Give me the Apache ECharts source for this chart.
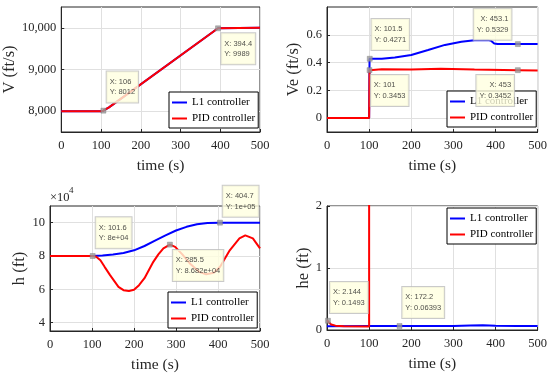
<!DOCTYPE html>
<html><head><meta charset="utf-8">
<script src="https://cdn.jsdelivr.net/npm/echarts@6/dist/echarts.min.js"></script>
<style>html,body{margin:0;padding:0;background:#fff}#c{width:550px;height:379px}</style>
</head><body><div id="c"></div>
<script>
// ---------- data ----------
const seriesNames = ['L1 controller', 'PID controller'];
// Panel 1: V (ft/s)
const vTime = [0, 100, 106, 120, 394.4, 397, 500];
const vL1   = [8000, 8000, 8012, 8090, 9989, 10000, 10000];
const vPID  = [8000, 8000, 8012, 8090, 9989, 10000, 10000];
const vTicks = [8000, 9000, 10000];
const vTips = [[106, 8012], [394.4, 9989]];
// Panel 2: Ve (ft/s)
const veL1Time = [0, 100, 101, 101.5, 130, 161, 200, 240, 280, 319, 350, 382, 390, 397, 405, 453.1, 500];
const veL1     = [0, 0, 0.4271, 0.4271, 0.428, 0.437, 0.455, 0.49, 0.527, 0.55, 0.56, 0.562, 0.556, 0.537, 0.533, 0.5329, 0.533];
const vePIDTime = [0, 100, 101, 130, 200, 270, 350, 453, 500];
const vePID     = [0, 0, 0.3453, 0.352, 0.35, 0.355, 0.35, 0.3452, 0.343];
const veTicks = [0, 0.2, 0.4, 0.6];
const veTips = [[101.5, 0.4271], [101, 0.3453], [453.1, 0.5329], [453, 0.3452]];
// Panel 3: h (ft)
const hL1Time = [0, 100, 101.6, 125, 150, 175, 200, 225, 250, 275, 300, 325, 350, 375, 404.7, 500];
const hL1     = [80000, 80000, 80000, 80300, 80900, 81800, 83400, 86000, 89200, 92400, 95300, 97500, 99000, 99750, 100000, 100000];
const hPIDTime = [0, 100, 101.6, 110, 120, 130, 143, 163, 175, 188, 200, 212, 225, 246, 258, 270, 285.5, 298, 315, 335, 355, 372, 390, 405, 428, 451, 465, 483, 500];
const hPID     = [80000, 80000, 80000, 79500, 77500, 73500, 68500, 61500, 59500, 59000, 59700, 62500, 66700, 76500, 81000, 84600, 86820, 85500, 81000, 75000, 70500, 69000, 70000, 73500, 83400, 90600, 92400, 90600, 84600];
const hTicks = [40000, 60000, 80000, 100000];
const hTips = [[101.6, 80000], [285.5, 86820], [404.7, 100000]];
// Panel 4: he (ft)
const heL1Time = [0, 100, 172.2, 250, 300, 340, 370, 400, 450, 500];
const heL1     = [0.06, 0.064, 0.06393, 0.064, 0.066, 0.072, 0.076, 0.068, 0.065, 0.065];
const hePIDTime = [0, 2.144, 5, 10, 20, 40, 100, 101, 200, 300, 372, 465, 500];
const hePID     = [0.16, 0.1493, 0.12, 0.09, 0.07, 0.06, 0.058, 1500, 23700, 9800, 30700, 7600, 15400];
const heTicks = [0, 1, 2];
const heTips = [[2.144, 0.1493], [172.2, 0.06393]];
const xTicks = [0, 100, 200, 300, 400, 500];

// ---------- styling / layout ----------
const SERIF = 'Liberation Serif';
const SANS = 'Liberation Sans';
const BLUE = '#0000ff', RED = '#ff0000', AX = '#262626';
const grids = [
  { left: 50, top: 7, width: 210, height: 125 },
  { left: 327, top: 7, width: 211, height: 125 },
  { left: 50, top: 206, width: 210, height: 125 },
  { left: 327, top: 206, width: 211, height: 124 }
];
// label placement for each tip: [dx, dy, align, verticalAlign]
const tipPlace = [
  [[6, -5.5, 'left', 'bottom'], [6, 7.7, 'left', 'top']],
  [[4.5, -6, 'left', 'bottom'], [4, 7.5, 'left', 'top'], [-3.7, -1.5, 'right', 'bottom'], [-1, 7.5, 'right', 'top']],
  [[5.8, -5, 'left', 'bottom'], [5.7, 8.1, 'left', 'top'], [5.5, -3.1, 'left', 'bottom']],
  [[4.9, -4.9, 'left', 'bottom'], [5.5, -5.2, 'left', 'bottom']]
];
const legendPos = [
  { left: 169, top: 92 }, { left: 447, top: 91 }, { left: 168, top: 292 }, { left: 447, top: 208 }
];

function g4(v) {
  if (v === 0) return '0';
  const e = Math.floor(Math.log10(Math.abs(v)));
  if (e < -4 || e >= 4) {
    let m = (v / Math.pow(10, e)).toFixed(3).replace(/\.?0+$/, '');
    return m + 'e' + (e < 0 ? '-' : '+') + String(Math.abs(e)).padStart(2, '0');
  }
  return String(parseFloat(v.toPrecision(4)));
}
const pairs = (t, y) => t.map((x, i) => [x, y[i]]);

const panels = [
  { l1: pairs(vTime, vL1), pid: pairs(vTime, vPID), min: 7500, max: 10500, ticks: vTicks,
    fmt: v => v.toLocaleString('en-US'), name: 'V (ft/s)', gap: 33, tips: vTips },
  { l1: pairs(veL1Time, veL1), pid: pairs(vePIDTime, vePID), min: -0.1, max: 0.8, ticks: veTicks,
    fmt: v => String(+v.toFixed(1)), name: 'Ve (ft/s)', gap: 15, tips: veTips },
  { l1: pairs(hL1Time, hL1), pid: pairs(hPIDTime, hPID), min: 35000, max: 110000, ticks: hTicks,
    fmt: v => String(v / 1e4), name: 'h (ft)', gap: 15, tips: hTips },
  { l1: pairs(heL1Time, heL1), pid: pairs(hePIDTime, hePID), min: 0, max: 2, ticks: heTicks,
    fmt: v => String(v), name: 'he (ft)', gap: 8.5, tips: heTips }
];

const option = {
  animation: false,
  backgroundColor: '#fff',
  grid: grids.map(g => Object.assign({ show: true, borderColor: AX, borderWidth: 1, backgroundColor: '#fff', containLabel: false }, g)),
  xAxis: grids.map((g, i) => ({
    type: 'value', gridIndex: i, min: 0, max: 500, interval: 100,
    name: 'time (s)', nameLocation: 'middle', nameGap: 26,
    nameTextStyle: { fontFamily: SERIF, fontSize: 15.5, color: AX },
    axisLine: { show: true, onZero: false, lineStyle: { color: AX, width: 1 } },
    axisTick: { show: true, inside: true, length: 3, lineStyle: { color: AX } },
    axisLabel: { margin: 7, fontFamily: SERIF, fontSize: 12.5, color: AX, customValues: xTicks },
    splitLine: { show: true, lineStyle: { color: '#e0e0e0', width: 1 } }
  })),
  yAxis: panels.map((p, i) => ({
    type: 'value', gridIndex: i, min: p.min, max: p.max,
    name: p.name, nameLocation: 'middle', nameGap: p.gap,
    nameTextStyle: { fontFamily: SERIF, fontSize: 16.5, color: AX },
    axisLine: { show: true, onZero: false, lineStyle: { color: AX, width: 1 } },
    axisTick: { show: true, inside: true, length: 3, lineStyle: { color: AX }, customValues: p.ticks },
    axisLabel: { margin: 5, fontFamily: SERIF, fontSize: 12.5, color: AX, customValues: p.ticks, formatter: p.fmt },
    splitLine: { show: true, lineStyle: { color: '#e0e0e0', width: 1 } }
  })),
  legend: legendPos.map(lp => Object.assign({
    data: seriesNames, orient: 'vertical', icon: 'rect', itemWidth: 15, itemHeight: 2, itemGap: 3,
    padding: [4, 3, 3, 3], backgroundColor: '#fff', borderColor: '#000', borderWidth: 1, borderRadius: 0,
    selectedMode: false,
    textStyle: { fontFamily: SERIF, fontSize: 11, color: '#000', lineHeight: 13 }
  }, lp)),
  series: []
};

panels.forEach((p, i) => {
  option.series.push({
    name: seriesNames[0], type: 'line', xAxisIndex: i, yAxisIndex: i, data: p.l1,
    symbol: 'none', color: BLUE, lineStyle: { color: BLUE, width: 2 }, clip: true, silent: true, z: 2
  });
  option.series.push({
    name: seriesNames[1], type: 'line', xAxisIndex: i, yAxisIndex: i, data: p.pid,
    symbol: 'none', color: RED, lineStyle: { color: RED, width: 2 }, clip: true, silent: true, z: 3
  });
  option.series.push({
    name: 'tips' + i, type: 'scatter', xAxisIndex: i, yAxisIndex: i, z: 10, silent: true,
    symbol: 'rect', symbolSize: 5,
    itemStyle: { color: '#9a9a9a', borderColor: '#7a7a7a', borderWidth: 0.5 },
    data: p.tips.map((t, k) => {
      const pl = tipPlace[i][k];
      return { value: t, label: { position: [pl[0], pl[1]], align: pl[2], verticalAlign: pl[3] } };
    }),
    label: {
      show: true,
      formatter: q => 'X: ' + g4(q.value[0]) + '\nY: ' + g4(q.value[1]),
      fontFamily: SANS, fontSize: 7.5, lineHeight: 10.5, color: '#222',
      backgroundColor: '#ffffe0', borderColor: '#bdbdbd', borderWidth: 1,
      padding: [5, 3, 5, 3]
    }
  });
});

option.graphic = [
  { type: 'text', left: 50, top: 191, style: { text: '×10', fontFamily: SERIF, fontSize: 12.5, fill: AX } },
  { type: 'text', left: 69, top: 186, style: { text: '4', fontFamily: SERIF, fontSize: 9, fill: AX } }
];

const chart = echarts.init(document.getElementById('c'), null, { renderer: 'canvas' });
chart.setOption(option);
</script>
</body></html>
